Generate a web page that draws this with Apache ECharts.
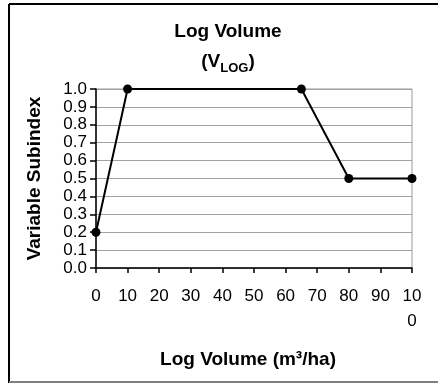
<!DOCTYPE html>
<html><head><meta charset="utf-8">
<script src="https://cdn.jsdelivr.net/npm/echarts@6/dist/echarts.min.js"></script>
<style>html,body{margin:0;padding:0;background:#fff}#c{width:438px;height:383px}</style>
</head><body><div id="c"></div>
<script>
const xValues = [0, 10, 65, 80, 100];
const yValues = [0.2, 1.0, 1.0, 0.5, 0.5];
const xTicks = [0, 10, 20, 30, 40, 50, 60, 70, 80, 90, 100];
const yTicks = [0.0, 0.1, 0.2, 0.3, 0.4, 0.5, 0.6, 0.7, 0.8, 0.9, 1.0];
const titleLine1 = 'Log Volume';
const titleMain = 'V';
const titleSub = 'LOG';
const xName = 'Log Volume (m³/ha)';
const yName = 'Variable Subindex';

const chart = echarts.init(document.getElementById('c'), null, {renderer: 'canvas'});
const F = 'Arial, "Liberation Sans", sans-serif';
chart.setOption({
  animation: false,
  backgroundColor: '#fff',
  title: {
    left: 228, top: 17, textAlign: 'center', padding: 0,
    text: '{t|' + titleLine1 + '}\n{t|(' + titleMain + '}{s|' + titleSub + '}{t|)}',
    textStyle: {
      rich: {
        t: {fontFamily: F, fontSize: 19, fontWeight: 'bold', color: '#000', lineHeight: 30},
        s: {fontFamily: F, fontSize: 13, fontWeight: 'bold', color: '#000', lineHeight: 30, padding: [12, 0, 0, 0]}
      }
    }
  },
  graphic: [
    {type: 'line', shape: {x1: 9, y1: 4, x2: 438, y2: 4}, style: {stroke: '#000', lineWidth: 2}},
    {type: 'line', shape: {x1: 9, y1: 4, x2: 9, y2: 383}, style: {stroke: '#000', lineWidth: 2}},
    {type: 'line', shape: {x1: 9, y1: 382, x2: 438, y2: 382}, style: {stroke: '#808080', lineWidth: 2}}
  ],
  grid: {left: 96, right: 26, top: 89, bottom: 115, show: true, borderColor: '#999', borderWidth: 1},
  xAxis: {
    type: 'value', min: 0, max: 100, interval: 10,
    name: xName, nameLocation: 'middle', nameGap: 82,
    nameTextStyle: {fontFamily: F, fontSize: 19, fontWeight: 'bold', color: '#000', padding: [0, 12, 0, 0]},
    axisLine: {show: true, onZero: false, lineStyle: {color: '#000', width: 1.5}},
    axisTick: {show: true, length: 5, lineStyle: {color: '#000', width: 1.5}},
    splitLine: {show: false},
    axisLabel: {
      fontFamily: F, fontSize: 17, color: '#000', margin: 16, lineHeight: 25,
      formatter: v => xTicks.includes(v) ? (v === 100 ? '10\n0' : String(v)) : ''
    }
  },
  yAxis: {
    type: 'value', min: 0, max: 1, interval: 0.1,
    name: yName, nameLocation: 'middle', nameGap: 52, nameRotate: 90,
    nameTextStyle: {fontFamily: F, fontSize: 19, fontWeight: 'bold', color: '#000'},
    axisLine: {show: true, lineStyle: {color: '#000', width: 1.5}},
    axisTick: {show: true, length: 6, lineStyle: {color: '#000', width: 1.5}},
    splitLine: {show: true, lineStyle: {color: '#a0a0a0', width: 1}},
    axisLabel: {
      fontFamily: F, fontSize: 17, color: '#000', margin: 9,
      formatter: v => yTicks.find(t => Math.abs(t - v) < 1e-9).toFixed(1)
    }
  },
  series: [{
    type: 'line',
    data: xValues.map((x, i) => [x, yValues[i]]),
    symbol: 'circle', symbolSize: 9,
    lineStyle: {color: '#000', width: 2},
    itemStyle: {color: '#000'},
    clip: false
  }]
});
</script></body></html>
